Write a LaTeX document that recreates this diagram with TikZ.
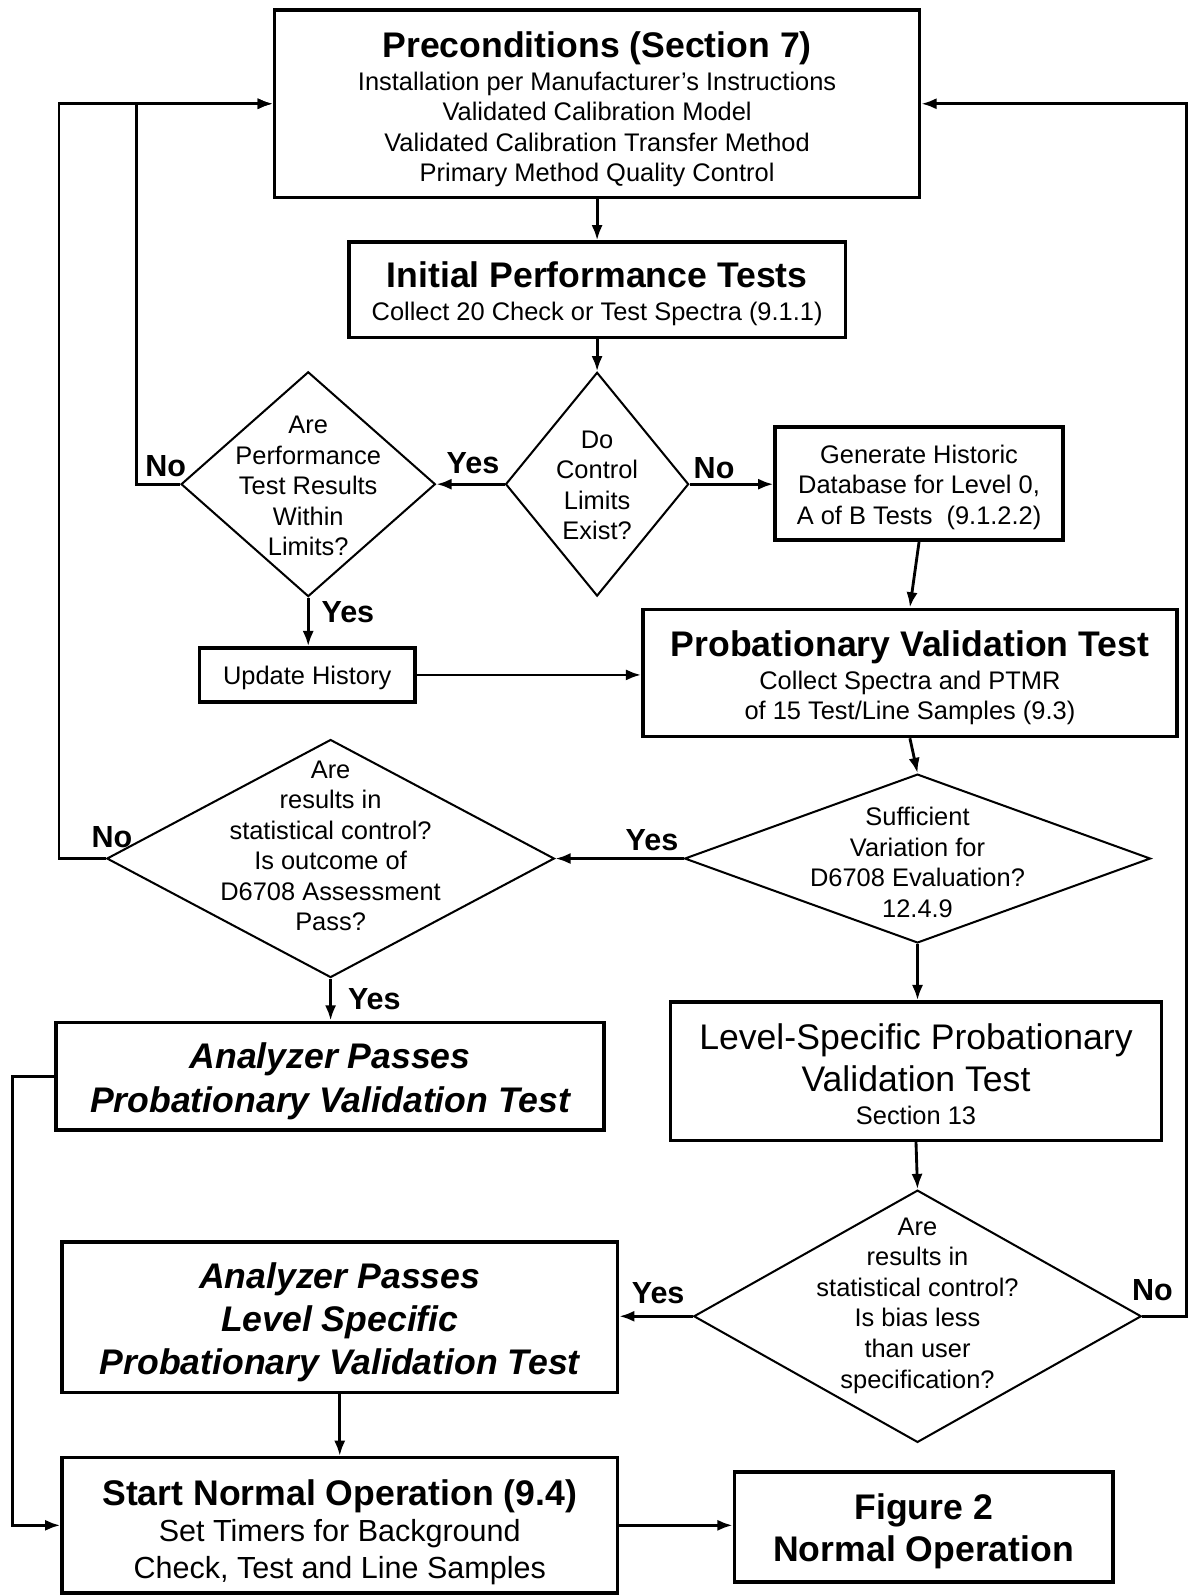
\documentclass[tikz,border=0pt]{standalone}
\usepackage{fontspec}
\setmainfont{Liberation Sans}
\usetikzlibrary{shapes.geometric,arrows.meta}
\begin{document}
\begin{tikzpicture}[x=1pt,y=-1pt,
  box/.style={draw,rectangle,line width=3.5pt,inner sep=0pt},
  dia/.style={draw,diamond,line width=2pt,inner sep=0pt},
  conn/.style={line width=2.8pt,-{Latex[length=15pt,width=11pt]}},
  lab/.style={font=\fontsize{30}{30}\selectfont\bfseries,inner sep=0pt},
  txt/.style={align=center,inner sep=0pt},
  dtxt/.style={txt,font=\fontsize{25}{30}\selectfont},
]
\useasboundingbox (0,0) rectangle (1167,1569);
\newcommand{\TitleF}{\fontsize{35}{35}\selectfont\bfseries}

% boxes
\node[box,minimum width=634pt,minimum height=184pt,
  label={[txt,font=\fontsize{25}{30}\selectfont,yshift=-5.5pt]center:{{\TitleF Preconditions (Section 7)}\\[2.5pt]
   Installation per Manufacturer’s Instructions\\
   Validated Calibration Model\\
   Validated Calibration Transfer Method\\
   Primary Method Quality Control}}] (pre) at (587,102) {};
\node[box,minimum width=488pt,minimum height=94pt,
  label={[txt,font=\fontsize{25}{30}\selectfont,yshift=-3.5pt]center:{{\TitleF Initial Performance Tests}\\[2.5pt]
   Collect 20 Check or Test Spectra (9.1.1)}}] (ipt) at (587,285) {};
\node[box,minimum width=283pt,minimum height=111pt,
  label={[txt,font=\fontsize{25}{30}\selectfont,yshift=-3.5pt]center:{Generate Historic\\Database for Level 0,\\A of B Tests\ \ (9.1.2.2)}}] (gen) at (903.5,475.5) {};
\node[box,minimum width=525pt,minimum height=125pt,
  label={[txt,font=\fontsize{25}{30}\selectfont,yshift=-5pt]center:{{\TitleF Probationary Validation Test}\\[1.5pt]
   Collect Spectra and PTMR\\of 15 Test/Line Samples (9.3)}}] (pvt) at (894.5,661.5) {};
\node[box,minimum width=212pt,minimum height=53pt,
  label={[txt,font=\fontsize{25}{30}\selectfont,yshift=-3pt]center:{Update History}}] (uh) at (302,663.5) {};
\node[box,minimum width=539pt,minimum height=106pt,
  label={[txt,font=\fontsize{35}{43}\selectfont\bfseries\itshape,yshift=-5pt]center:{Analyzer Passes\\Probationary Validation Test}}] (apvt) at (324.5,1058) {};
\node[box,minimum width=483pt,minimum height=136pt,
  label={[txt,font=\fontsize{35}{41}\selectfont,yshift=-3pt]center:{Level-Specific Probationary\\Validation Test\\[-8.5pt]
   {\fontsize{25}{30}\selectfont Section 13}}}] (lspvt) at (900.5,1053) {};
\node[box,minimum width=546pt,minimum height=148pt,
  label={[txt,font=\fontsize{35}{42}\selectfont\bfseries\itshape,yshift=-5pt]center:{Analyzer Passes\\Level Specific\\Probationary Validation Test}}] (alspvt) at (334,1295) {};
\node[box,minimum width=546pt,minimum height=133pt,
  label={[txt,font=\fontsize{30}{36}\selectfont,yshift=-6.5pt]center:{{\TitleF Start Normal Operation (9.4)}\\
   Set Timers for Background\\Check, Test and Line Samples}}] (sno) at (334,1499.5) {};
\node[box,minimum width=372pt,minimum height=108pt,
  label={[txt,font=\fontsize{35}{42}\selectfont\bfseries,yshift=-4.5pt]center:{Figure 2\\Normal Operation}}] (fig) at (908,1501) {};

% diamonds
\node[dia,minimum width=180pt,minimum height=220pt,
  label={[dtxt,yshift=-1pt]center:{Do\\Control\\Limits\\Exist?}}] (do) at (587,476) {};
\node[dia,minimum width=250pt,minimum height=221pt,
  label={[dtxt,yshift=-2pt]center:{Are\\Performance\\Test Results\\Within\\Limits?}}] (perf) at (303,476) {};
\node[dia,minimum width=440pt,minimum height=234pt,
  label={[dtxt,yshift=12.5pt]center:{Are\\results in\\statistical control?\\Is outcome of\\D6708 Assessment\\Pass?}}] (dsix) at (325,844) {};
\node[dia,minimum width=458pt,minimum height=166pt,
  label={[dtxt,yshift=-4pt]center:{Sufficient\\Variation for\\D6708 Evaluation?\\12.4.9}}] (suf) at (902,844) {};
\node[dia,minimum width=440pt,minimum height=248pt,
  label={[dtxt,yshift=10.5pt]center:{Are\\results in\\statistical control?\\Is bias less\\than user\\specification?}}] (bias) at (902,1294) {};

% labels
\node[lab] (l1) at (163,458) {No};
\node[lab] (l2) at (465,455) {Yes};
\node[lab] (l3) at (702,460) {No};
\node[lab] (l4) at (342,602) {Yes};
\node[lab] (l5) at (110,823) {No};
\node[lab] (l6) at (641,826) {Yes};
\node[lab] (l7) at (368,982) {Yes};
\node[lab] (l8) at (647,1271) {Yes};
\node[lab] (l9) at (1133,1268) {No};

% connectors
\draw[conn] (pre.south) -- (pre.south |- ipt.north);
\draw[conn] (ipt.south) -- (do.north);
\draw[conn] (do.west) -- (perf.east);
\draw[conn] (do.east) -- (do.east -| gen.west);
\draw[conn] (perf.west) -- ++(-43,0) |- (pre.west);
\draw[conn] (dsix.west) -- ++(-46,0) |- (pre.west);
\draw[conn] (perf.south) -- (perf.south |- uh.north);
\draw[conn] (uh.east) -- (uh.east -| pvt.west);
\draw[conn] (gen.south) -- (pvt.north);
\draw[conn] (pvt.south) -- (suf.north);
\draw[conn] (suf.west) -- (suf.west -| dsix.east);
\draw[conn] (suf.south) -- (suf.south |- lspvt.north);
\draw[conn] (dsix.south) -- (dsix.south |- apvt.north);
\draw[conn] (apvt.west) -- ++(-41,0) |- (sno.west);
\draw[conn] (lspvt.south) -- (bias.north);
\draw[conn] (bias.west) -- (bias.west -| alspvt.east);
\draw[conn] (bias.east) -- ++(43,0) |- (pre.east);
\draw[conn] (alspvt.south) -- (alspvt.south |- sno.north);
\draw[conn] (sno.east) -- (sno.east -| fig.west);
\end{tikzpicture}
\end{document}
